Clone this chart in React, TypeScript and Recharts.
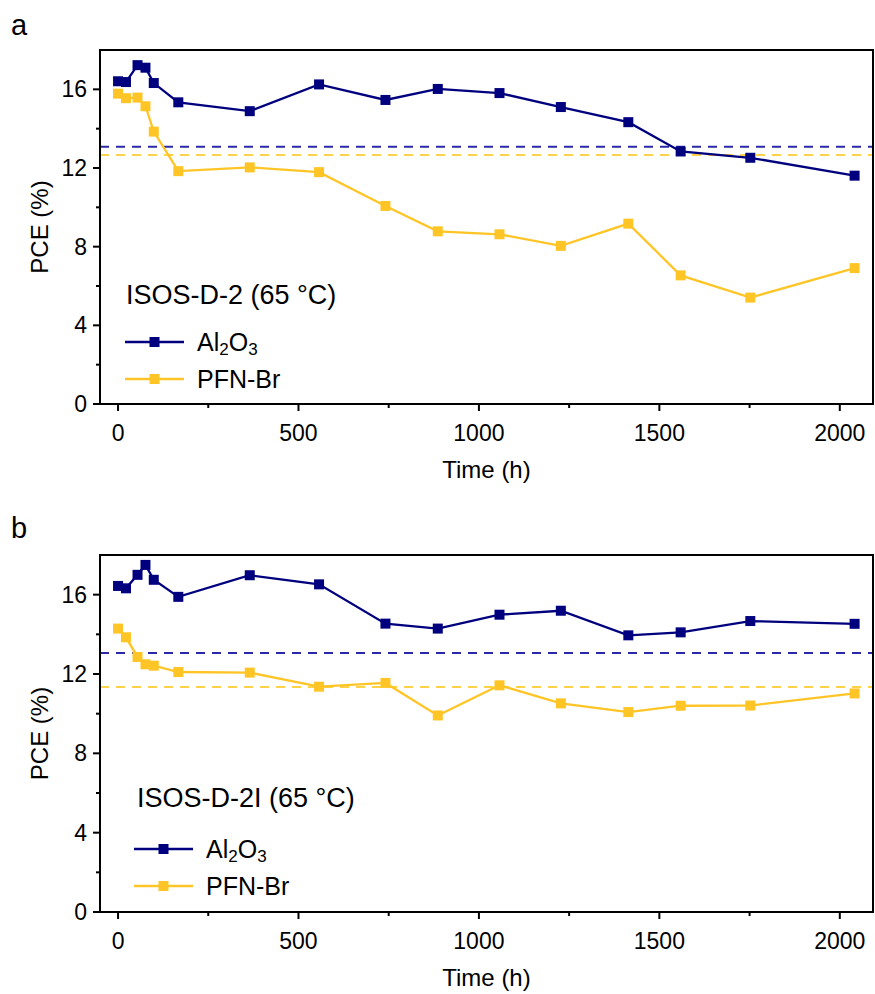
import React from "react";
import { LineChart, Line, XAxis, YAxis, ReferenceLine } from "recharts";

// aging time (h) shared by both tests
const hours = [0, 22, 54, 76, 99, 167, 365, 557, 741, 886, 1057, 1227, 1414, 1559, 1752, 2041];

// ISOS-D-2 (65 °C)
const al2o3D2 = [16.41, 16.37, 17.23, 17.1, 16.32, 15.34, 14.89, 16.25, 15.46, 16.02, 15.81, 15.1, 14.33, 12.84, 12.52, 11.61];
const pfnD2 = [15.78, 15.55, 15.58, 15.14, 13.85, 11.84, 12.03, 11.79, 10.07, 8.78, 8.63, 8.04, 9.17, 6.54, 5.41, 6.91];
const t80D2 = [13.08, 12.66];

// ISOS-D-2I (65 °C)
const al2o3D2I = [16.44, 16.32, 17.0, 17.5, 16.75, 15.89, 16.98, 16.52, 14.54, 14.29, 14.99, 15.19, 13.95, 14.1, 14.67, 14.53];
const pfnD2I = [14.29, 13.85, 12.86, 12.49, 12.42, 12.1, 12.07, 11.36, 11.55, 9.91, 11.43, 10.52, 10.08, 10.4, 10.41, 11.02];
const t80D2I = [13.06, 11.35];

const xTicks = [0, 250, 500, 750, 1000, 1250, 1500, 1750, 2000];
const yTicks = [0, 2, 4, 6, 8, 10, 12, 14, 16];
const xDomain = [-50, 2092];
const yDomain = [0, 18];

const NAVY = "#00007f";
const GOLD = "#ffc526";
const FONT = "'Liberation Sans', Arial, sans-serif";
const FRAME = { stroke: "#000", strokeWidth: 2 };

// panel layout: chart box and plot-area margins
const W = 875;
const AXIS_W = 100;
const RIGHT = 2;
const panelA = { top: 0, height: 500, plotTop: 50, axisHeight: 96 };
const panelB = { top: 500, height: 494, plotTop: 55, axisHeight: 82 };

const XTick = (props: any) => {
  const { x, y, payload } = props;
  const major = payload.value % 500 === 0;
  return (
    <g>
      <line x1={x} x2={x} y1={y} y2={y + (major ? 7 : 4)} stroke="#000" strokeWidth={2} />
      {major && (
        <text x={x} y={y + 29} textAnchor="middle" dominantBaseline="central" fontSize={23} fill="#000">
          {payload.value}
        </text>
      )}
    </g>
  );
};

const YTick = (props: any) => {
  const { x, y, payload } = props;
  const major = payload.value % 4 === 0;
  return (
    <g>
      <line x1={x} x2={x - (major ? 7 : 4)} y1={y} y2={y} stroke="#000" strokeWidth={2} />
      {major && (
        <text x={x - 13} y={y} textAnchor="end" dominantBaseline="central" fontSize={23} fill="#000">
          {payload.value}
        </text>
      )}
    </g>
  );
};

const square = (color: string) => (p: any) => (
  <rect key={`${color}-${p.index}`} x={p.cx - 5} y={p.cy - 5} width={10} height={10} fill={color} />
);

const XTitle = (props: any) => {
  const vb = props.viewBox;
  return (
    <text x={vb.x + vb.width / 2} y={vb.y + 65} textAnchor="middle" dominantBaseline="central" fontSize={24} fill="#000">
      Time (h)
    </text>
  );
};

const YTitle = (props: any) => {
  const vb = props.viewBox;
  const cy = vb.y + vb.height / 2;
  return (
    <text x={39} y={cy} transform={`rotate(-90 39 ${cy})`} textAnchor="middle" dominantBaseline="central" fontSize={24} fill="#000">
      PCE (%)
    </text>
  );
};

type Layout = { top: number; height: number; plotTop: number; axisHeight: number };
type PanelProps = Layout & { al2o3: number[]; pfn: number[]; t80: number[] };

const Panel = ({ top, height, plotTop, axisHeight, al2o3, pfn, t80 }: PanelProps) => {
  const data = hours.map((h, i) => ({ h, al2o3: al2o3[i], pfn: pfn[i] }));
  return (
    <div style={{ position: "absolute", left: 0, top }}>
      <LineChart width={W} height={height} data={data} margin={{ top: plotTop, right: RIGHT, bottom: 0, left: 0 }}>
        <XAxis
          dataKey="h"
          type="number"
          domain={xDomain}
          allowDataOverflow
          ticks={xTicks}
          interval={0}
          height={axisHeight}
          tickSize={0}
          tickMargin={0}
          tick={<XTick />}
          axisLine={FRAME}
          label={<XTitle />}
        />
        <YAxis
          type="number"
          domain={yDomain}
          allowDataOverflow
          ticks={yTicks}
          interval={0}
          width={AXIS_W}
          tickSize={0}
          tickMargin={0}
          tick={<YTick />}
          axisLine={FRAME}
          label={<YTitle />}
        />
        {/* 80% of initial PCE */}
        <ReferenceLine y={t80[0]} stroke="#2a2aa8" strokeWidth={2} strokeDasharray="9 7" />
        <ReferenceLine y={t80[1]} stroke="#ffd24a" strokeWidth={2} strokeDasharray="9 7" />
        <Line dataKey="al2o3" stroke={NAVY} strokeWidth={2.3} dot={square(NAVY)} isAnimationActive={false} />
        <Line dataKey="pfn" stroke={GOLD} strokeWidth={2.3} dot={square(GOLD)} isAnimationActive={false} />
      </LineChart>
    </div>
  );
};

// full outline of the plot area
const BoxEdges = ({ top, height, plotTop, axisHeight }: Layout) => (
  <div
    style={{
      position: "absolute",
      left: AXIS_W - 1,
      top: top + plotTop - 1,
      width: W - RIGHT - AXIS_W + 2,
      height: height - axisHeight - plotTop + 2,
      border: "2px solid #000",
      boxSizing: "border-box",
      pointerEvents: "none",
    }}
  />
);

type KeyProps = { title: string; x: number; titleY: number; lineX: number; rowY: number[]; textX: number };

const LegendKey = ({ title, x, titleY, lineX, rowY, textX }: KeyProps) => (
  <g>
    <text x={x} y={titleY} dominantBaseline="central" fontSize={27} fill="#000">
      {title}
    </text>
    {[NAVY, GOLD].map((c, i) => (
      <g key={c}>
        <line x1={lineX} x2={lineX + 59} y1={rowY[i]} y2={rowY[i]} stroke={c} strokeWidth={2.3} />
        <rect x={lineX + 24.5} y={rowY[i] - 5} width={10} height={10} fill={c} />
      </g>
    ))}
    <text x={textX} y={rowY[0]} dominantBaseline="central" fontSize={25} fill="#000">
      Al<tspan fontSize={17} dy={7}>2</tspan>
      <tspan dy={-7}>O</tspan>
      <tspan fontSize={17} dy={7}>3</tspan>
    </text>
    <text x={textX} y={rowY[1]} dominantBaseline="central" fontSize={25} fill="#000">
      PFN-Br
    </text>
  </g>
);

export default function App() {
  return (
    <div style={{ position: "absolute", left: 0, top: 0, width: W, height: 994, background: "#fff", fontFamily: FONT }}>
      <Panel {...panelA} al2o3={al2o3D2} pfn={pfnD2} t80={t80D2} />
      <Panel {...panelB} al2o3={al2o3D2I} pfn={pfnD2I} t80={t80D2I} />
      <BoxEdges {...panelA} />
      <BoxEdges {...panelB} />
      <svg width={W} height={994} style={{ position: "absolute", left: 0, top: 0, pointerEvents: "none" }}>
        <text x={11} y={25} dominantBaseline="central" fontSize={29} fill="#000">a</text>
        <text x={11} y={528} dominantBaseline="central" fontSize={29} fill="#000">b</text>
        <LegendKey title="ISOS-D-2 (65 °C)" x={126} titleY={295} lineX={125} rowY={[342, 379]} textX={197} />
        <LegendKey title="ISOS-D-2I (65 °C)" x={137} titleY={798} lineX={134} rowY={[849, 886]} textX={206} />
      </svg>
    </div>
  );
}
